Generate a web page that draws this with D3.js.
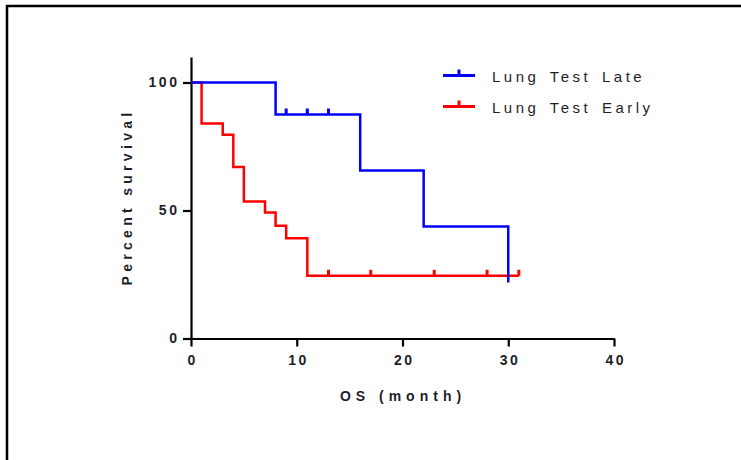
<!DOCTYPE html>
<html>
<head>
<meta charset="utf-8">
<script src="https://cdn.jsdelivr.net/npm/d3@7"></script>
<style>
  body { margin: 0; background: #fff; }
  svg { display: block; }
</style>
</head>
<body>
<div id="chart"></div>
<script>
// survival data
var seriesNames = ['Lung Test Late', 'Lung Test Early'];
var seriesColors = ['#0000ff', '#ff0000'];

var lateTimes = [0, 8, 16, 22, 30];
var lateSurv = [100, 87.5, 65.6, 43.75, 21.9];
var lateCensor = [9, 11, 13];

var earlyTimes = [0, 1, 3, 4, 5, 7, 8, 9, 11, 31];
var earlySurv = [100, 84, 79.6, 67, 53.5, 49.2, 44, 39.2, 24.5, 24.5];
var earlyCensor = [13, 17, 23, 28, 31];

var xTicks = [0, 10, 20, 30, 40];
var yTicks = [0, 50, 100];

var W = 741, H = 460;

var svg = d3.select('#chart').append('svg')
    .attr('width', W)
    .attr('height', H);

// frame (left + top only)
svg.append('path')
    .attr('d', 'M7,' + H + ' V6 H' + W)
    .attr('fill', 'none')
    .attr('stroke', '#000')
    .attr('stroke-width', 2.5);

var x = d3.scaleLinear().domain([0, 40]).range([191, 614]);
var y = d3.scaleLinear().domain([0, 110]).range([338.5, 56.9]);

var font = 'Arial, "Liberation Sans", sans-serif';
var textColor = '#1e1e28';

// axes
var yAxis = svg.append('g')
    .attr('transform', 'translate(' + x(0) + ',0)')
    .call(d3.axisLeft(y).tickValues(yTicks).tickSize(8).tickPadding(6).tickSizeOuter(0));
var xAxis = svg.append('g')
    .attr('transform', 'translate(0,' + y(0) + ')')
    .call(d3.axisBottom(x).tickValues(xTicks).tickSize(8).tickPadding(9).tickSizeOuter(0));

[xAxis, yAxis].forEach(function(a) {
    a.select('.domain').attr('stroke', '#000').attr('stroke-width', 2.2);
    a.selectAll('.tick line').attr('stroke', '#000').attr('stroke-width', 2.2);
    a.selectAll('.tick text')
        .attr('fill', textColor)
        .style('font-family', font)
        .style('font-size', '14px')
        .style('font-weight', 'bold')
        .style('letter-spacing', '2.6px');
});
yAxis.selectAll('.tick text').attr('dx', 2.6);
xAxis.selectAll('.tick text').attr('dx', 1.3);

// axis titles
svg.append('text')
    .attr('transform', 'translate(132,197) rotate(-90)')
    .attr('text-anchor', 'middle')
    .style('font-family', font)
    .style('font-size', '14px')
    .style('font-weight', 'bold')
    .style('letter-spacing', '4.3px')
    .attr('fill', textColor)
    .text('Percent survival');

svg.append('text')
    .attr('x', 403)
    .attr('y', 401)
    .attr('text-anchor', 'middle')
    .style('font-family', font)
    .style('font-size', '14px')
    .style('font-weight', 'bold')
    .style('letter-spacing', '5px')
    .attr('fill', textColor)
    .text('OS (month)');

// curves
var line = d3.line()
    .x(function(d) { return x(d[0]); })
    .y(function(d) { return y(d[1]); })
    .curve(d3.curveStepAfter);

function survAt(times, surv, t) {
    var s = surv[0];
    for (var i = 0; i < times.length; i++) {
        if (times[i] <= t) s = surv[i];
    }
    return s;
}

var curves = [
    {times: earlyTimes, surv: earlySurv, censor: earlyCensor, color: seriesColors[1]},
    {times: lateTimes, surv: lateSurv, censor: lateCensor, color: seriesColors[0]}
];

curves.forEach(function(c) {
    var pts = c.times.map(function(t, i) { return [t, c.surv[i]]; });
    var g = svg.append('g');
    g.append('path')
        .datum(pts)
        .attr('d', line)
        .attr('fill', 'none')
        .attr('stroke', c.color)
        .attr('stroke-width', 2.5);
    g.selectAll('line.censor')
        .data(c.censor)
        .enter()
        .append('line')
        .attr('class', 'censor')
        .attr('x1', function(t) { return x(t); })
        .attr('x2', function(t) { return x(t); })
        .attr('y1', function(t) { return y(survAt(c.times, c.surv, t)); })
        .attr('y2', function(t) { return y(survAt(c.times, c.surv, t)) - 6; })
        .attr('stroke', c.color)
        .attr('stroke-width', 3);
});

// legend
var legend = svg.append('g');
seriesNames.forEach(function(name, i) {
    var ly = 75.5 + i * 31;
    legend.append('line')
        .attr('x1', 443).attr('x2', 475)
        .attr('y1', ly).attr('y2', ly)
        .attr('stroke', seriesColors[i])
        .attr('stroke-width', 3);
    legend.append('line')
        .attr('x1', 459).attr('x2', 459)
        .attr('y1', ly).attr('y2', ly - 6)
        .attr('stroke', seriesColors[i])
        .attr('stroke-width', 3);
    legend.append('text')
        .attr('x', 492)
        .attr('y', ly + 6)
        .style('font-family', font)
        .style('font-size', '15px')
        .style('letter-spacing', '3.5px')
        .style('word-spacing', '3px')
        .attr('fill', textColor)
        .text(name);
});
</script>
</body>
</html>
